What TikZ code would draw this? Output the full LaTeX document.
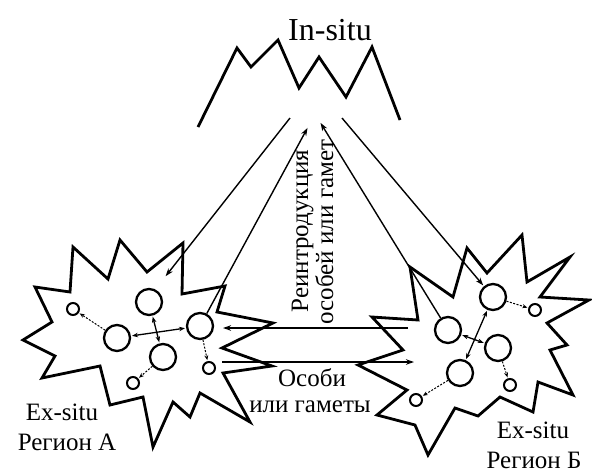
\documentclass[tikz,border=0pt]{standalone}
\usepackage{fontspec}
\setmainfont{Liberation Serif}
\usetikzlibrary{arrows.meta, positioning}
\def\bigsize{26pt}
\def\smallsize{12pt}

\begin{document}
\begin{tikzpicture}[x=1pt, y=-1pt, >={Stealth[length=8pt,width=5.5pt]}, font=\fontsize{25}{26}\selectfont]
    \tikzstyle{cell}=[circle, draw=black, line width=2.3pt, minimum size=\bigsize, inner sep=0pt]
    \tikzstyle{seed}=[cell, line width=2pt, minimum size=\smallsize]
    \tikzstyle{site}=[line width=2.8pt, line join=miter]
    \tikzstyle{flow}=[->, line width=1.4pt, shorten >=1pt]
    \tikzstyle{swap}=[<->, line width=1.3pt, >={Stealth[length=6pt,width=4.5pt]}, shorten >=1pt, shorten <=1pt]
    \tikzstyle{spread}=[->, line width=1pt, dash pattern=on 2pt off 1.5pt, >={Stealth[length=5pt,width=4pt]}, shorten >=1pt]
    \tikzstyle{annot}=[inner sep=0pt, anchor=base]

    \useasboundingbox (0,0) rectangle (592,472);

    % Draw the in-situ mountain
    \draw[site] (198,127) -- (237,48) -- (251,67) -- (278,40) -- (299,88) -- (319,57)
        -- (346,97) -- (372,47) -- (400,120);
    \node[annot, font=\fontsize{32}{34}\selectfont] (insitu) at (330,40) {In-situ};

    % Draw the ex-situ region A
    \draw[site] (23,340) -- (55,356) -- (42,378) -- (100,366) -- (110,405) -- (143,397)
        -- (153,447) -- (173,402) -- (190,417) -- (200,393) -- (250,422) -- (223,373)
        -- (272,366) -- (222,348) -- (273,323) -- (217,312) -- (225,286) -- (182,294)
        -- (183,243) -- (147,272) -- (120,240) -- (108,279) -- (73,247) -- (70,292)
        -- (35,287) -- (52,322) -- cycle;

    % Draw the ex-situ region B
    \draw[site] (410,267) -- (453,297) -- (467,248) -- (487,273) -- (522,235) -- (527,282)
        -- (570,257) -- (540,297) -- (589,300) -- (547,323) -- (567,345) -- (550,350)
        -- (573,395) -- (538,382) -- (533,412) -- (500,397) -- (478,416) -- (455,408)
        -- (428,455) -- (415,425) -- (377,415) -- (407,390) -- (358,365) -- (403,350)
        -- (372,317) -- (418,320) -- cycle;

    % Draw the populations in region A
    \foreach \name / \x / \y in {2/117/338, 3/149/302, 4/163/357, 5/200/326}
        \node[cell] (A-\name) at (\x,\y) {};
    \foreach \name / \x / \y in {1/73/309, 6/209/368, 7/133/383}
        \node[seed] (A-\name) at (\x,\y) {};

    % Draw the populations in region B
    \foreach \name / \x / \y in {1/493/297, 2/448/330, 3/498/348, 4/460/373}
        \node[cell] (B-\name) at (\x,\y) {};
    \foreach \name / \x / \y in {5/535/310, 6/510/385, 7/416/400}
        \node[seed] (B-\name) at (\x,\y) {};

    % Ends of the free connectors
    \coordinate (M-1) at (290,118);
    \coordinate (M-2) at (308,127);
    \coordinate (M-3) at (320,122);
    \coordinate (M-4) at (342,118);
    \coordinate (A-in) at (165,277);
    \coordinate (A-gate-in) at (222,328);
    \coordinate (A-gate-out) at (222,362);
    \coordinate (B-gate-out) at (408,328);
    \coordinate (B-gate-in) at (415,362);

    % Connect the mountain with both regions
    \draw[flow] (M-1) -- (A-in);
    \draw[flow] (A-5) -- (M-2);
    \draw[flow] (B-2) -- (M-3);
    \draw[flow] (M-4) -- (B-1);

    % Exchange between the regions
    \draw[flow] (B-gate-out) -- (A-gate-in);
    \draw[flow] (A-gate-out) -- (B-gate-in);

    % Exchange inside the regions
    \draw[swap] (A-2) -- (A-5);
    \draw[swap] (A-3) -- (A-4);
    \draw[swap] (B-2) -- (B-3);
    \draw[swap] (B-1) -- (B-4);
    \foreach \source / \dest in {2/1, 5/6, 4/7}
        \draw[spread] (A-\source) -- (A-\dest);
    \foreach \source / \dest in {1/5, 3/6, 4/7}
        \draw[spread] (B-\source) -- (B-\dest);

    % Annotate the picture
    \node[annot, rotate=90] (reintro) at (308,231) {Реинтродукция};
    \node[annot, rotate=90] (reintro2) at (333,232) {особей или гамет};
    \node[annot] (mig) at (312,386) {Особи};
    \node[annot] (mig2) at (310,412) {или гаметы};
    \node[annot] (exA) at (62,420) {Ex-situ};
    \node[annot] (regA) at (67,450) {Регион А};
    \node[annot] (exB) at (533,438) {Ex-situ};
    \node[annot] (regB) at (534,468) {Регион Б};

\end{tikzpicture}
\end{document}
